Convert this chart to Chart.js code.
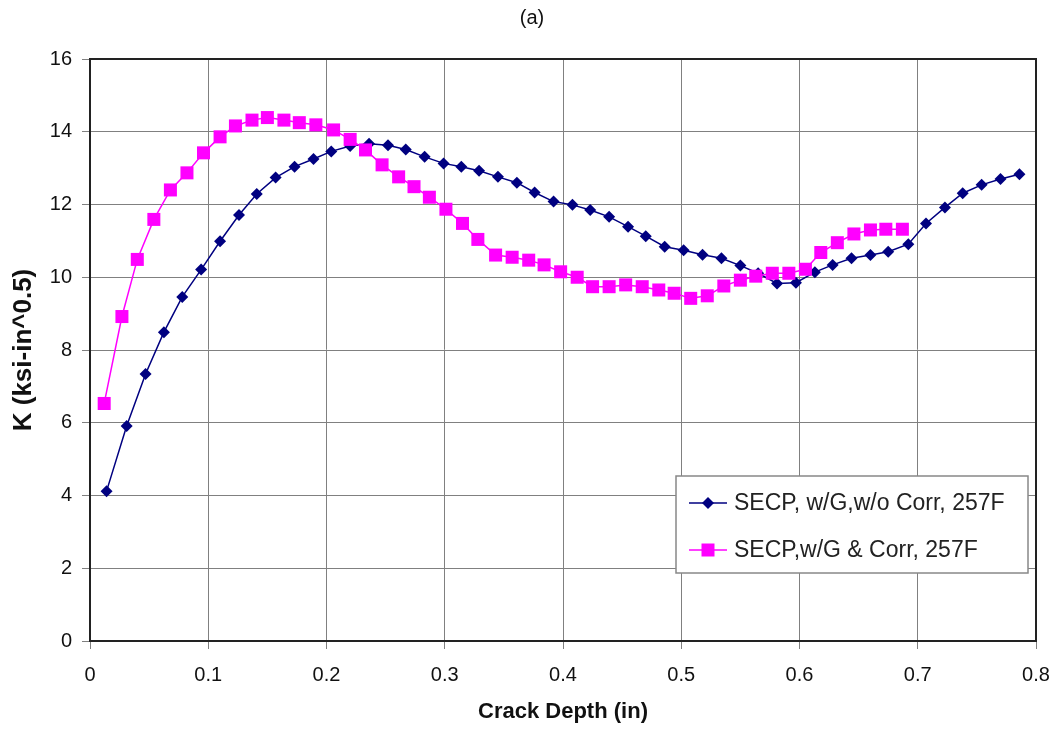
<!DOCTYPE html>
<html>
<head>
<meta charset="utf-8">
<title>Crack Depth vs K</title>
<script src="https://cdn.jsdelivr.net/npm/chart.js@4.4.0/dist/chart.umd.min.js"></script>
<style>
  body { margin: 0; background: #fff; }
  #wrap { width: 1056px; height: 731px; }
</style>
</head>
<body>
<div id="wrap"><canvas id="kChart" width="1056" height="731"></canvas></div>
<script>
// crack depth (in) and stress intensity K (ksi-in^0.5)
var noCorrDepth = [0.014, 0.031, 0.047, 0.0625, 0.078, 0.094, 0.110, 0.126, 0.141, 0.157,
  0.173, 0.189, 0.204, 0.220, 0.236, 0.252, 0.267, 0.283, 0.299, 0.314,
  0.329, 0.345, 0.361, 0.376, 0.392, 0.408, 0.423, 0.439, 0.455, 0.470,
  0.486, 0.502, 0.518, 0.534, 0.550, 0.565, 0.581, 0.597, 0.613, 0.628,
  0.644, 0.660, 0.675, 0.692, 0.707, 0.723, 0.738, 0.754, 0.770, 0.786];
var noCorrK = [4.12, 5.91, 7.34, 8.49, 9.46, 10.21, 10.99, 11.71, 12.29, 12.74,
  13.04, 13.25, 13.46, 13.61, 13.67, 13.63, 13.51, 13.31, 13.13, 13.04,
  12.93, 12.76, 12.60, 12.33, 12.08, 11.99, 11.85, 11.66, 11.39, 11.13,
  10.84, 10.74, 10.62, 10.52, 10.32, 10.11, 9.83, 9.85, 10.14, 10.34,
  10.52, 10.61, 10.70, 10.91, 11.48, 11.92, 12.31, 12.54, 12.70, 12.83];

var corrDepth = [0.012, 0.027, 0.040, 0.054, 0.068, 0.082, 0.096, 0.110, 0.123, 0.137,
  0.150, 0.164, 0.177, 0.191, 0.206, 0.220, 0.233, 0.247, 0.261, 0.274,
  0.287, 0.301, 0.315, 0.328, 0.343, 0.357, 0.371, 0.384, 0.398, 0.412,
  0.425, 0.439, 0.453, 0.467, 0.481, 0.494, 0.508, 0.522, 0.536, 0.550,
  0.563, 0.577, 0.591, 0.605, 0.618, 0.632, 0.646, 0.660, 0.673, 0.687];
var corrK = [6.53, 8.92, 10.49, 11.59, 12.40, 12.87, 13.42, 13.86, 14.16, 14.32,
  14.39, 14.32, 14.25, 14.19, 14.05, 13.79, 13.50, 13.09, 12.76, 12.49,
  12.20, 11.87, 11.48, 11.04, 10.61, 10.55, 10.47, 10.34, 10.15, 10.00,
  9.74, 9.74, 9.79, 9.74, 9.65, 9.56, 9.42, 9.49, 9.76, 9.92,
  10.03, 10.11, 10.11, 10.22, 10.68, 10.95, 11.19, 11.30, 11.32, 11.32];

var seriesNames = ["SECP, w/G,w/o Corr, 257F", "SECP,w/G & Corr, 257F"];
var seriesColors = ["#000080", "#FF00FF"];

function toPoints(xs, ys) {
  var pts = [];
  for (let i = 0; i < xs.length; i++) {
    pts.push({ x: xs[i], y: ys[i] });
  }
  return pts;
}

Chart.defaults.font.family = '"Liberation Sans", Arial, sans-serif';
Chart.defaults.color = "#111";

// outer frame of the plot area (top and right edges aren't drawn by the axes)
var plotFrame = {
  id: "plotFrame",
  afterDatasetsDraw: function(chart) {
    var a = chart.chartArea, ctx = chart.ctx;
    ctx.save();
    ctx.strokeStyle = "#222";
    ctx.lineWidth = 2;
    ctx.strokeRect(a.left, a.top, a.right - a.left, a.bottom - a.top);
    ctx.restore();
  }
};

// legend box with a line through each marker, like a spreadsheet legend
var lineLegend = {
  id: "lineLegend",
  afterDraw: function(chart) {
    var a = chart.chartArea, ctx = chart.ctx;
    var left = a.right - 360, top = a.bottom - 165;
    var w = 352, h = 97;
    ctx.save();
    ctx.fillStyle = "#fff";
    ctx.fillRect(left, top, w, h);
    ctx.strokeStyle = "#888";
    ctx.lineWidth = 1.5;
    ctx.strokeRect(left, top, w, h);
    for (let i = 0; i < seriesNames.length; i++) {
      var y = top + 27 + i * 47;
      var cx = left + 32;
      ctx.strokeStyle = seriesColors[i];
      ctx.fillStyle = seriesColors[i];
      ctx.lineWidth = 1.5;
      ctx.beginPath();
      ctx.moveTo(left + 13, y);
      ctx.lineTo(left + 51, y);
      ctx.stroke();
      ctx.beginPath();
      if (i === 0) {
        ctx.moveTo(cx - 6, y);
        ctx.lineTo(cx, y - 6);
        ctx.lineTo(cx + 6, y);
        ctx.lineTo(cx, y + 6);
        ctx.closePath();
      } else {
        ctx.rect(cx - 6.5, y - 6.5, 13, 13);
      }
      ctx.fill();
      ctx.fillStyle = "#222";
      ctx.font = '23px "Liberation Sans", Arial, sans-serif';
      ctx.textBaseline = "middle";
      ctx.fillText(seriesNames[i], left + 58, y + 1);
    }
    ctx.restore();
  }
};

var ctx = document.getElementById("kChart");
var chart = new Chart(ctx, {
  type: "line",
  data: {
    datasets: [{
      label: seriesNames[0],
      data: toPoints(noCorrDepth, noCorrK),
      borderColor: seriesColors[0],
      backgroundColor: seriesColors[0],
      borderWidth: 1.5,
      pointStyle: "rectRot",
      pointRadius: 6,
      pointBorderWidth: 0,
      pointBackgroundColor: seriesColors[0],
      fill: false,
      tension: 0,
      order: 1
    }, {
      label: seriesNames[1],
      data: toPoints(corrDepth, corrK),
      borderColor: seriesColors[1],
      backgroundColor: seriesColors[1],
      borderWidth: 1.5,
      pointStyle: "rect",
      pointRadius: 9.2,
      pointBorderWidth: 0,
      pointBackgroundColor: seriesColors[1],
      fill: false,
      tension: 0,
      order: 0
    }]
  },
  options: {
    responsive: false,
    animation: false,
    layout: { padding: { left: 8, right: 0, top: 0, bottom: 4 } },
    plugins: {
      legend: { display: false },
      tooltip: { enabled: false },
      title: {
        display: true,
        text: "(a)",
        color: "#111",
        font: { size: 20, weight: "normal" },
        padding: { top: 6, bottom: 29 }
      }
    },
    scales: {
      x: {
        type: "linear",
        min: 0,
        max: 0.8,
        ticks: {
          stepSize: 0.1,
          padding: 14,
          font: { size: 20 },
          callback: function(v) { return Math.round(v * 10) / 10; }
        },
        grid: { color: "#808080", lineWidth: 1, tickLength: 8, tickColor: "#808080" },
        border: { color: "#222", width: 2 },
        title: {
          display: true,
          text: "Crack Depth (in)",
          font: { size: 22, weight: "bold" },
          padding: { top: 0, bottom: 2 }
        },
        afterFit: function(scale) {
          scale.height = 86;
          scale.paddingRight = 20;
        }
      },
      y: {
        min: 0,
        max: 16,
        ticks: { stepSize: 2, padding: 10, font: { size: 20 } },
        grid: { color: "#808080", lineWidth: 1, tickLength: 8, tickColor: "#808080" },
        border: { color: "#222", width: 2 },
        title: {
          display: true,
          text: "K (ksi-in^0.5)",
          font: { size: 26, weight: "bold" },
          padding: { top: 0, bottom: 0 }
        },
        afterFit: function(scale) { scale.width = 82; }
      }
    }
  },
  plugins: [plotFrame, lineLegend]
});
</script>
</body>
</html>
